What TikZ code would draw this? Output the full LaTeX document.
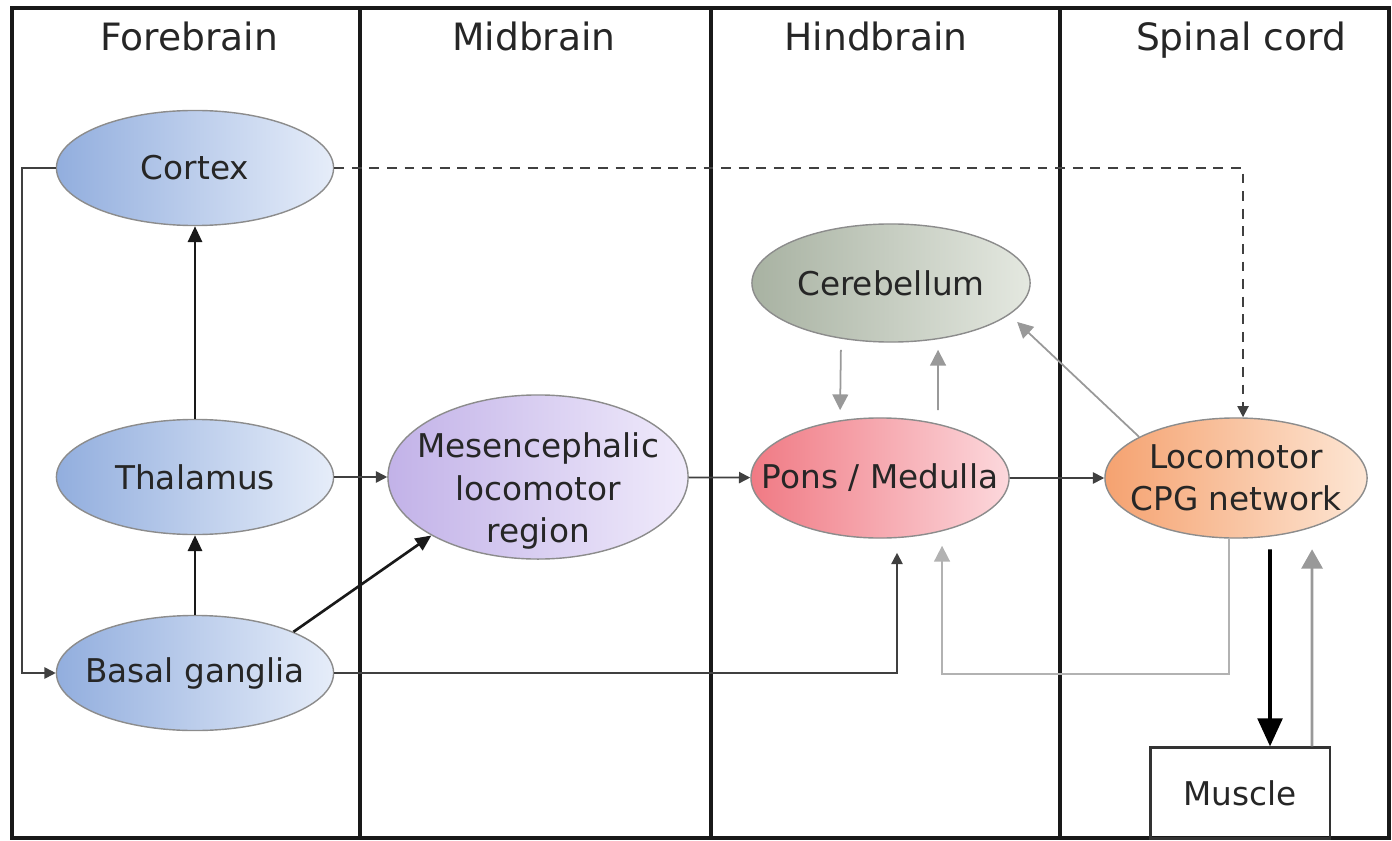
\documentclass[tikz,border=0pt]{standalone}
\usepackage{fontspec}
\setmainfont{DejaVu Sans}
\usepackage{xcolor}
\definecolor{brblue}{RGB}{146,174,222}
\definecolor{brbluelt}{RGB}{230,237,249}
\definecolor{brpurple}{RGB}{194,178,232}
\definecolor{brpurplelt}{RGB}{240,235,251}
\definecolor{brgrey}{RGB}{168,178,162}
\definecolor{brgreylt}{RGB}{228,232,224}
\definecolor{brred}{RGB}{240,122,132}
\definecolor{brredlt}{RGB}{252,216,220}
\definecolor{brorange}{RGB}{245,162,112}
\definecolor{brorangelt}{RGB}{253,230,212}
\usetikzlibrary{arrows.meta,shapes.geometric}

\begin{document}
\begin{tikzpicture}[x=0.01cm,y=-0.01cm,
  region/.style={draw=black!45,ellipse,inner sep=-8pt,minimum width=2.77cm,minimum height=1.15cm,font=\fontsize{9.3}{12}\selectfont,align=center,text=black!85},
  heading/.style={anchor=base,font=\fontsize{10.7}{13}\selectfont,text=black!85},
  frame/.style={line width=0.9pt,black!90},
  link/.style={-{Triangle[length=3.2pt,width=3.2pt]},line width=0.5pt,black!75},
  strong/.style={-{Triangle[length=4.5pt,width=4pt]},line width=0.75pt,black!90},
  feed/.style={-{Triangle[length=4.5pt,width=4.5pt]},line width=0.6pt,black!40},
  drive/.style={-{Triangle[length=8pt,width=7pt]},line width=1.1pt,black}
]
  \useasboundingbox (0,0) rectangle (1392,840);
  \draw[frame] (12,8) rectangle (1389,838);
  \foreach \x in {360,711,1060} \draw[frame] (\x,8) -- (\x,838);

  \node[heading] (hfore) at (189,51) {Forebrain};
  \node[heading] (hmid) at (534,51) {Midbrain};
  \node[heading] (hhind) at (876,51) {Hindbrain};
  \node[heading] (hspin) at (1241,51) {Spinal cord};

  \node[region,left color=brblue,right color=brbluelt] (cortex) at (195,168) {Cortex};
  \node[region,left color=brblue,right color=brbluelt] (thal) at (195,477) {Thalamus};
  \node[region,left color=brblue,right color=brbluelt] (basal) at (195,673) {Basal ganglia};
  \node[region,left color=brpurple,right color=brpurplelt,minimum width=3cm,minimum height=1.64cm] (mlr) at (538,477) {};
  \node[font=\fontsize{9.3}{12.2}\selectfont,align=center,text=black!85] (mlrtext) at (538,491) {Mesencephalic\\locomotor\\region};
  \node[region,left color=brgrey,right color=brgreylt,minimum width=2.78cm,minimum height=1.18cm] (cereb) at (891,283) {Cerebellum};
  \node[region,left color=brred,right color=brredlt,minimum width=2.58cm,minimum height=1.2cm] (pons) at (880,478) {Pons / Medulla};
  \node[region,left color=brorange,right color=brorangelt,minimum width=2.62cm,minimum height=1.2cm] (cpg) at (1236,478) {Locomotor\\CPG network};
  \node[draw=black!80,line width=0.6pt,minimum width=1.79cm,minimum height=0.91cm,font=\fontsize{9.3}{12}\selectfont,text=black!85] (muscle) at (1240,793) {Muscle};

  \coordinate (lft) at (22,420);
  \coordinate (fb) at (1100,674);

  \draw[link] (cortex.west) -| (lft) |- (basal.west);
  \draw[strong] (thal) -- (cortex);
  \draw[strong] (basal) -- (thal);
  \draw[strong] (basal.north east) -- (mlr.south west);
  \draw[link] (thal) -- (mlr);
  \draw[link] (basal.east) -| ([xshift=0.17cm,yshift=-4pt]pons.south);
  \draw[link] (mlr) -- (pons);
  \draw[link] (pons) -- (cpg);
  \draw[link,dash pattern=on 2.8pt off 2.2pt] (cortex.east) -| ([xshift=0.07cm]cpg.north);
  \draw[feed,line width=0.5pt,shorten <=2pt,shorten >=2pt] ([xshift=-0.5cm]cereb.south) -- ([xshift=-0.4cm]pons.north);
  \draw[feed,line width=0.5pt,shorten <=2pt,shorten >=2pt] ([xshift=0.58cm]pons.north) -- ([xshift=0.47cm]cereb.south);
  \draw[feed,line width=0.5pt,shorten >=3pt] (cpg.157) -- (cereb.-15);
  \draw[feed,black!30,line width=0.5pt] ([xshift=-0.07cm]cpg.south) |- (fb) -| ([xshift=0.62cm,yshift=-2pt]pons.south);
  \draw[drive,shorten <=3pt] ([xshift=0.34cm]cpg.south) -- ([xshift=0.3cm]muscle.north);
  \draw[feed,-{Triangle[length=5.5pt,width=6pt]},line width=0.8pt,shorten >=3pt] ([xshift=0.72cm]muscle.north) -- ([xshift=0.76cm]cpg.south);
\end{tikzpicture}
\end{document}
